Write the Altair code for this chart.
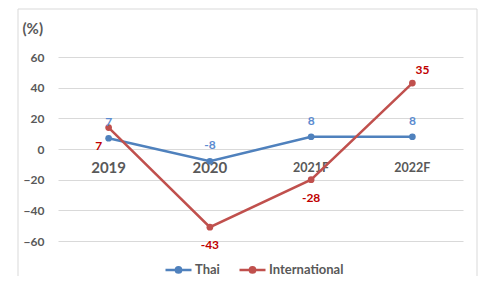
import altair as alt
import pandas as pd

years = ["2019", "2020", "2021F", "2022F"]
series_names = ["Thai", "International"]
thai_values = [7, -8, 8, 8]
intl_values = [14, -51, -20, 43]
thai_labels = ["7", "-8", "8", "8"]
intl_labels = ["7", "-43", "-28", "35"]
y_ticks = [-60, -40, -20, 0, 20, 40, 60]

rows = []
for i, yr in enumerate(years):
    rows.append({"year": yr, "series": "Thai", "value": thai_values[i], "label": thai_labels[i]})
    rows.append({"year": yr, "series": "International", "value": intl_values[i], "label": intl_labels[i]})
df = pd.DataFrame(rows)
cats = pd.DataFrame({"year": years})

FONT = "Lato"
GRAY = "#595959"
BLUE = "#4F81BD"
RED = "#C0504D"
BLUE_TXT = "#5B8BD0"
RED_TXT = "#C00000"

x = alt.X("year:N", sort=years, scale=alt.Scale(type="point", padding=0.5), axis=None)
y_scale = alt.Scale(domain=[-60, 60], nice=False, zero=False)
y_axis = alt.Axis(
    values=y_ticks, title="(%)", titleAngle=0, titleAlign="left", titleBaseline="middle",
    titleX=-36, titleY=-29, titleFont=FONT, titleFontSize=15, titleFontWeight="bold",
    titleColor=GRAY, labelFont=FONT, labelFontSize=12, labelFontWeight="bold",
    labelColor=GRAY, labelPadding=14, labelOverlap=False, ticks=False, domain=False,
    grid=True, gridColor="#d9d9d9", gridWidth=1,
)
y = alt.Y("value:Q", scale=y_scale, axis=y_axis)

legend_symbol = (
    "M-1,0L1,0"
    "M-0.09,0A0.09,0.09,0,1,1,0.09,0A0.09,0.09,0,1,1,-0.09,0"
    "M-0.2,0A0.2,0.2,0,1,1,0.2,0A0.2,0.2,0,1,1,-0.2,0"
)

color_scale = alt.Scale(domain=series_names, range=[BLUE, RED])

frame = alt.Chart(alt.Data(values=[{}])).mark_rect(
    fillOpacity=0, stroke="#d9d9d9", strokeWidth=1
).encode(x=alt.value(-40), x2=alt.value(419), y=alt.value(-48), y2=alt.value(300))

lines = alt.Chart(df).mark_line(strokeWidth=2.5).encode(
    x=x, y=y,
    color=alt.Color(
        "series:N", scale=color_scale, sort=series_names,
        legend=alt.Legend(
            title=None, orient="none", direction="horizontal", legendX=106, legendY=198,
            symbolType=legend_symbol, symbolSize=676, symbolStrokeWidth=2.5,
            labelFont=FONT, labelFontSize=13, labelFontWeight="bold", labelColor=GRAY,
            labelOffset=2, columnPadding=14,
        ),
    ),
    detail="series:N",
)

points = alt.Chart(df).mark_point(filled=True, size=45, opacity=1).encode(
    x=x, y=y, color=alt.Color("series:N", scale=color_scale, legend=None)
)


def label_layer(series_name, subset, dx, dy, color):
    return (
        alt.Chart(df)
        .transform_filter(alt.datum.series == series_name)
        .transform_filter(alt.FieldOneOfPredicate(field="year", oneOf=subset))
        .mark_text(dx=dx, dy=dy, font=FONT, fontSize=12, fontWeight="bold", color=color)
        .encode(x=x, y=y, text="label:N")
    )


thai_text = label_layer("Thai", years, 0, -16, BLUE_TXT)
intl_a = label_layer("International", ["2019"], -10, 18, RED_TXT)
intl_b = label_layer("International", ["2020", "2021F"], 0, 18, RED_TXT)
intl_c = label_layer("International", ["2022F"], 10, -13, RED_TXT)


def cat_layer(subset, size):
    return (
        alt.Chart(cats)
        .transform_filter(alt.FieldOneOfPredicate(field="year", oneOf=subset))
        .mark_text(dy=19, font=FONT, fontSize=size, fontWeight="bold", color=GRAY)
        .encode(x=x, y=alt.Y(datum=0, scale=y_scale, axis=y_axis), text="year:N")
    )


cat_big = cat_layer(["2019", "2020"], 15)
cat_small = cat_layer(["2021F", "2022F"], 12.5)

chart = (
    alt.layer(frame, cat_big, cat_small, lines, points, thai_text, intl_a, intl_b, intl_c)
    .properties(
        width=405, height=184,
        autosize=alt.AutoSizeParams(type="none"),
        padding={"left": 50, "top": 49, "right": 15, "bottom": 35},
    )
    .configure_view(stroke=None)
    .configure_axis(titleFontSize=15, titleFont=FONT, titleFontWeight="bold", titleColor=GRAY)
)

chart.save("out.html", embed_options={"renderer": "svg", "actions": False})
